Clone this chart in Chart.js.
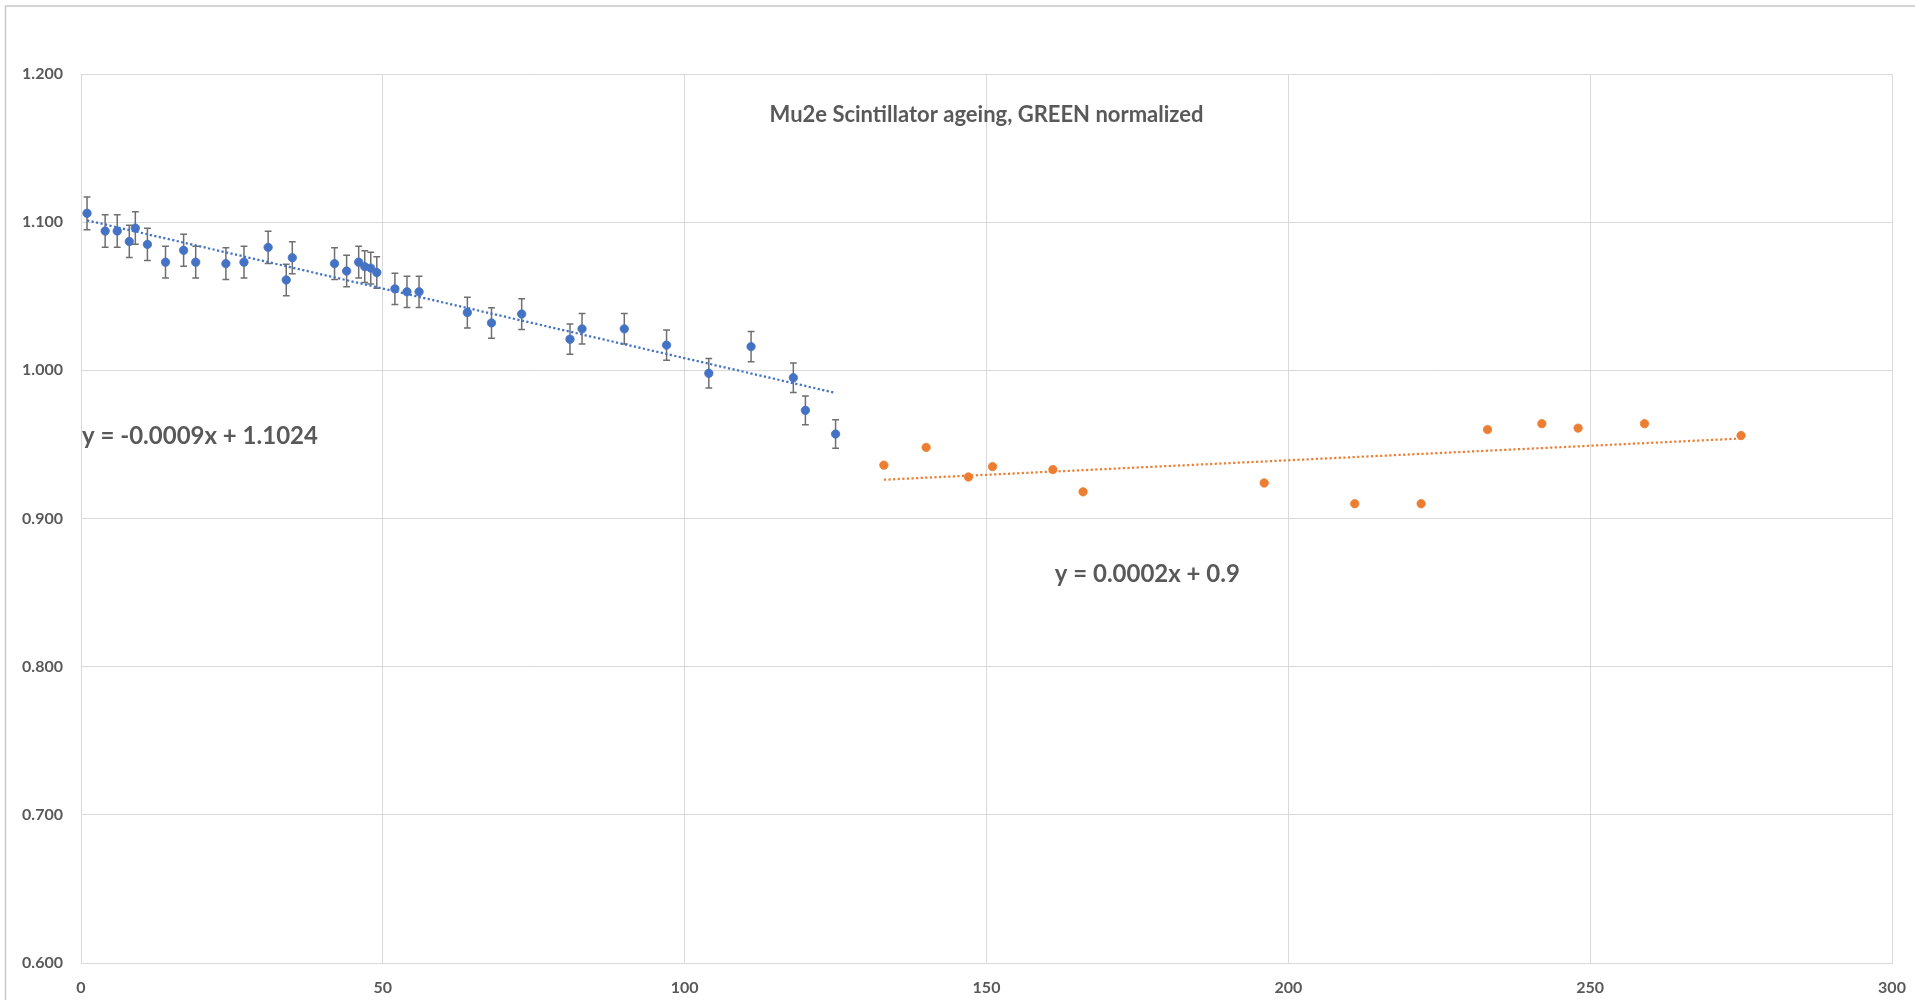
<!DOCTYPE html>
<html>
<head>
<meta charset="utf-8">
<script src="https://cdn.jsdelivr.net/npm/chart.js@4.4.1/dist/chart.umd.min.js"></script>
<style>
  html, body { margin: 0; padding: 0; background: #ffffff; }
  #wrap { width: 1915px; height: 1000px; position: relative; }
  canvas { display: block; }
</style>
</head>
<body>
<div id="wrap"><canvas id="c" width="1915" height="1000"></canvas></div>
<script>
// ---- data ----
const chartTitle = 'Mu2e Scintillator ageing, GREEN normalized';

const blueX = [1, 4, 6, 8, 9, 11, 14, 17, 19, 24, 27, 31, 34, 35, 42, 44, 46, 47, 48, 49,
               52, 54, 56, 64, 68, 73, 81, 83, 90, 97, 104, 111, 118, 120, 125];
const blueY = [1.106, 1.094, 1.094, 1.087, 1.096, 1.085, 1.073, 1.081, 1.073, 1.072, 1.073,
               1.083, 1.061, 1.076, 1.072, 1.067, 1.073, 1.070, 1.069, 1.066,
               1.055, 1.053, 1.053, 1.039, 1.032, 1.038, 1.021, 1.028, 1.028, 1.017,
               0.998, 1.016, 0.995, 0.973, 0.957];
const blueErrorPercent = 1; // Excel "percentage" error bars, 1 %

const orangeX = [133, 140, 147, 151, 161, 166, 196, 211, 222, 233, 242, 248, 259, 275];
const orangeY = [0.936, 0.948, 0.928, 0.935, 0.933, 0.918, 0.924, 0.910, 0.910,
                 0.960, 0.964, 0.961, 0.964, 0.956];

const blueEquation = 'y = -0.0009x + 1.1024';
const orangeEquation = 'y = 0.0002x + 0.9';

const xTickValues = [0, 50, 100, 150, 200, 250, 300];
const yTickValues = [0.6, 0.7, 0.8, 0.9, 1.0, 1.1, 1.2];

// ---- helpers ----
function linFit(xs, ys) {
  const n = xs.length;
  let sx = 0, sy = 0, sxx = 0, sxy = 0;
  for (let i = 0; i < n; i++) { sx += xs[i]; sy += ys[i]; sxx += xs[i]*xs[i]; sxy += xs[i]*ys[i]; }
  const m = (n*sxy - sx*sy) / (n*sxx - sx*sx);
  const b = (sy - m*sx) / n;
  return { m, b };
}
function trendPoints(xs, ys) {
  const f = linFit(xs, ys);
  const x0 = Math.min(...xs), x1 = Math.max(...xs);
  return [{ x: x0, y: f.m*x0 + f.b }, { x: x1, y: f.m*x1 + f.b }];
}
const toPts = (xs, ys) => xs.map((x, i) => ({ x, y: ys[i] }));

const BLUE = '#4472C4';
const ORANGE = '#ED7D31';
const TEXT = '#595959';
const GRID = '#d9d9d9';
const FONT = 'Lato, "Open Sans", "DejaVu Sans", sans-serif';

const decor = {
  id: 'decor',
  beforeDraw(chart) {
    const ctx = chart.ctx;
    ctx.save();
    ctx.fillStyle = '#ffffff';
    ctx.fillRect(0, 0, chart.width, chart.height);
    ctx.strokeStyle = '#c8c8c8';
    ctx.lineWidth = 1.5;
    ctx.strokeRect(5.5, 6, chart.width + 20, chart.height + 20);
    ctx.restore();
  },
  beforeDatasetsDraw(chart) {
    const ctx = chart.ctx;
    const xs = chart.scales.x, ys = chart.scales.y;
    ctx.save();
    ctx.strokeStyle = '#6f6f6f';
    ctx.lineWidth = 1.5;
    const cap = 3.4;
    blueX.forEach((x, i) => {
      const v = blueY[i];
      const e = v * blueErrorPercent / 100;
      const px = xs.getPixelForValue(x);
      const top = ys.getPixelForValue(v + e);
      const bot = ys.getPixelForValue(v - e);
      ctx.beginPath();
      ctx.moveTo(px, top); ctx.lineTo(px, bot);
      ctx.moveTo(px - cap, top); ctx.lineTo(px + cap, top);
      ctx.moveTo(px - cap, bot); ctx.lineTo(px + cap, bot);
      ctx.stroke();
    });
    ctx.restore();
  },
  afterDatasetsDraw(chart) {
    const ctx = chart.ctx;
    const a = chart.chartArea;
    const xs = chart.scales.x, ys = chart.scales.y;
    ctx.save();
    ctx.fillStyle = TEXT;
    ctx.textBaseline = 'middle';
    ctx.textAlign = 'center';
    ctx.font = 'bold 22px ' + FONT;
    ctx.fillText(chartTitle, (a.left + a.right) / 2, ys.getPixelForValue(1.1725));
    ctx.textAlign = 'left';
    ctx.font = 'bold 24px ' + FONT;
    ctx.fillText(blueEquation, a.left + 1, ys.getPixelForValue(0.9555));
    ctx.fillText(orangeEquation, xs.getPixelForValue(161.3), ys.getPixelForValue(0.8622));
    ctx.restore();
  }
};

new Chart(document.getElementById('c'), {
  type: 'scatter',
  data: {
    datasets: [
      {
        label: 'GREEN normalized (set 1)',
        data: toPts(blueX, blueY),
        backgroundColor: BLUE, borderColor: BLUE,
        pointRadius: 4.2, pointBorderWidth: 0.8, order: 2
      },
      {
        label: 'GREEN normalized (set 2)',
        data: toPts(orangeX, orangeY),
        backgroundColor: ORANGE, borderColor: ORANGE,
        pointRadius: 4.2, pointBorderWidth: 0.8, order: 2
      },
      {
        type: 'line', label: 'Linear (set 1)',
        data: trendPoints(blueX, blueY),
        borderColor: BLUE, borderWidth: 2.25, borderDash: [2.2, 2.4],
        pointRadius: 0, fill: false, order: 1
      },
      {
        type: 'line', label: 'Linear (set 2)',
        data: trendPoints(orangeX, orangeY),
        borderColor: ORANGE, borderWidth: 2.25, borderDash: [2.2, 2.4],
        pointRadius: 0, fill: false, order: 1
      }
    ]
  },
  options: {
    responsive: false,
    animation: false,
    devicePixelRatio: 1,
    layout: { padding: { top: 74, right: 23, bottom: 0, left: 0 } },
    plugins: { legend: { display: false }, tooltip: { enabled: false } },
    scales: {
      x: {
        type: 'linear', min: 0, max: 300,
        afterBuildTicks: s => { s.ticks = xTickValues.map(v => ({ value: v })); },
        afterFit: s => { s.height = 37; s.paddingLeft = 0; s.paddingRight = 0; },
        grid: { color: GRID, lineWidth: 1, drawTicks: false },
        border: { color: GRID, width: 1 },
        ticks: {
          padding: 15, color: TEXT, maxRotation: 0,
          font: { family: FONT, size: 16, weight: 'bold' },
          callback: v => String(v)
        }
      },
      y: {
        type: 'linear', min: 0.6, max: 1.2,
        afterBuildTicks: s => { s.ticks = yTickValues.map(v => ({ value: v })); },
        afterFit: s => { s.width = 81; s.paddingTop = 0; s.paddingBottom = 0; },
        grid: { color: GRID, lineWidth: 1, drawTicks: false },
        border: { color: GRID, width: 1 },
        ticks: {
          padding: 18, color: TEXT,
          font: { family: FONT, size: 16, weight: 'bold' },
          callback: v => Number(v).toFixed(3)
        }
      }
    }
  },
  plugins: [decor]
});
</script>
</body>
</html>
